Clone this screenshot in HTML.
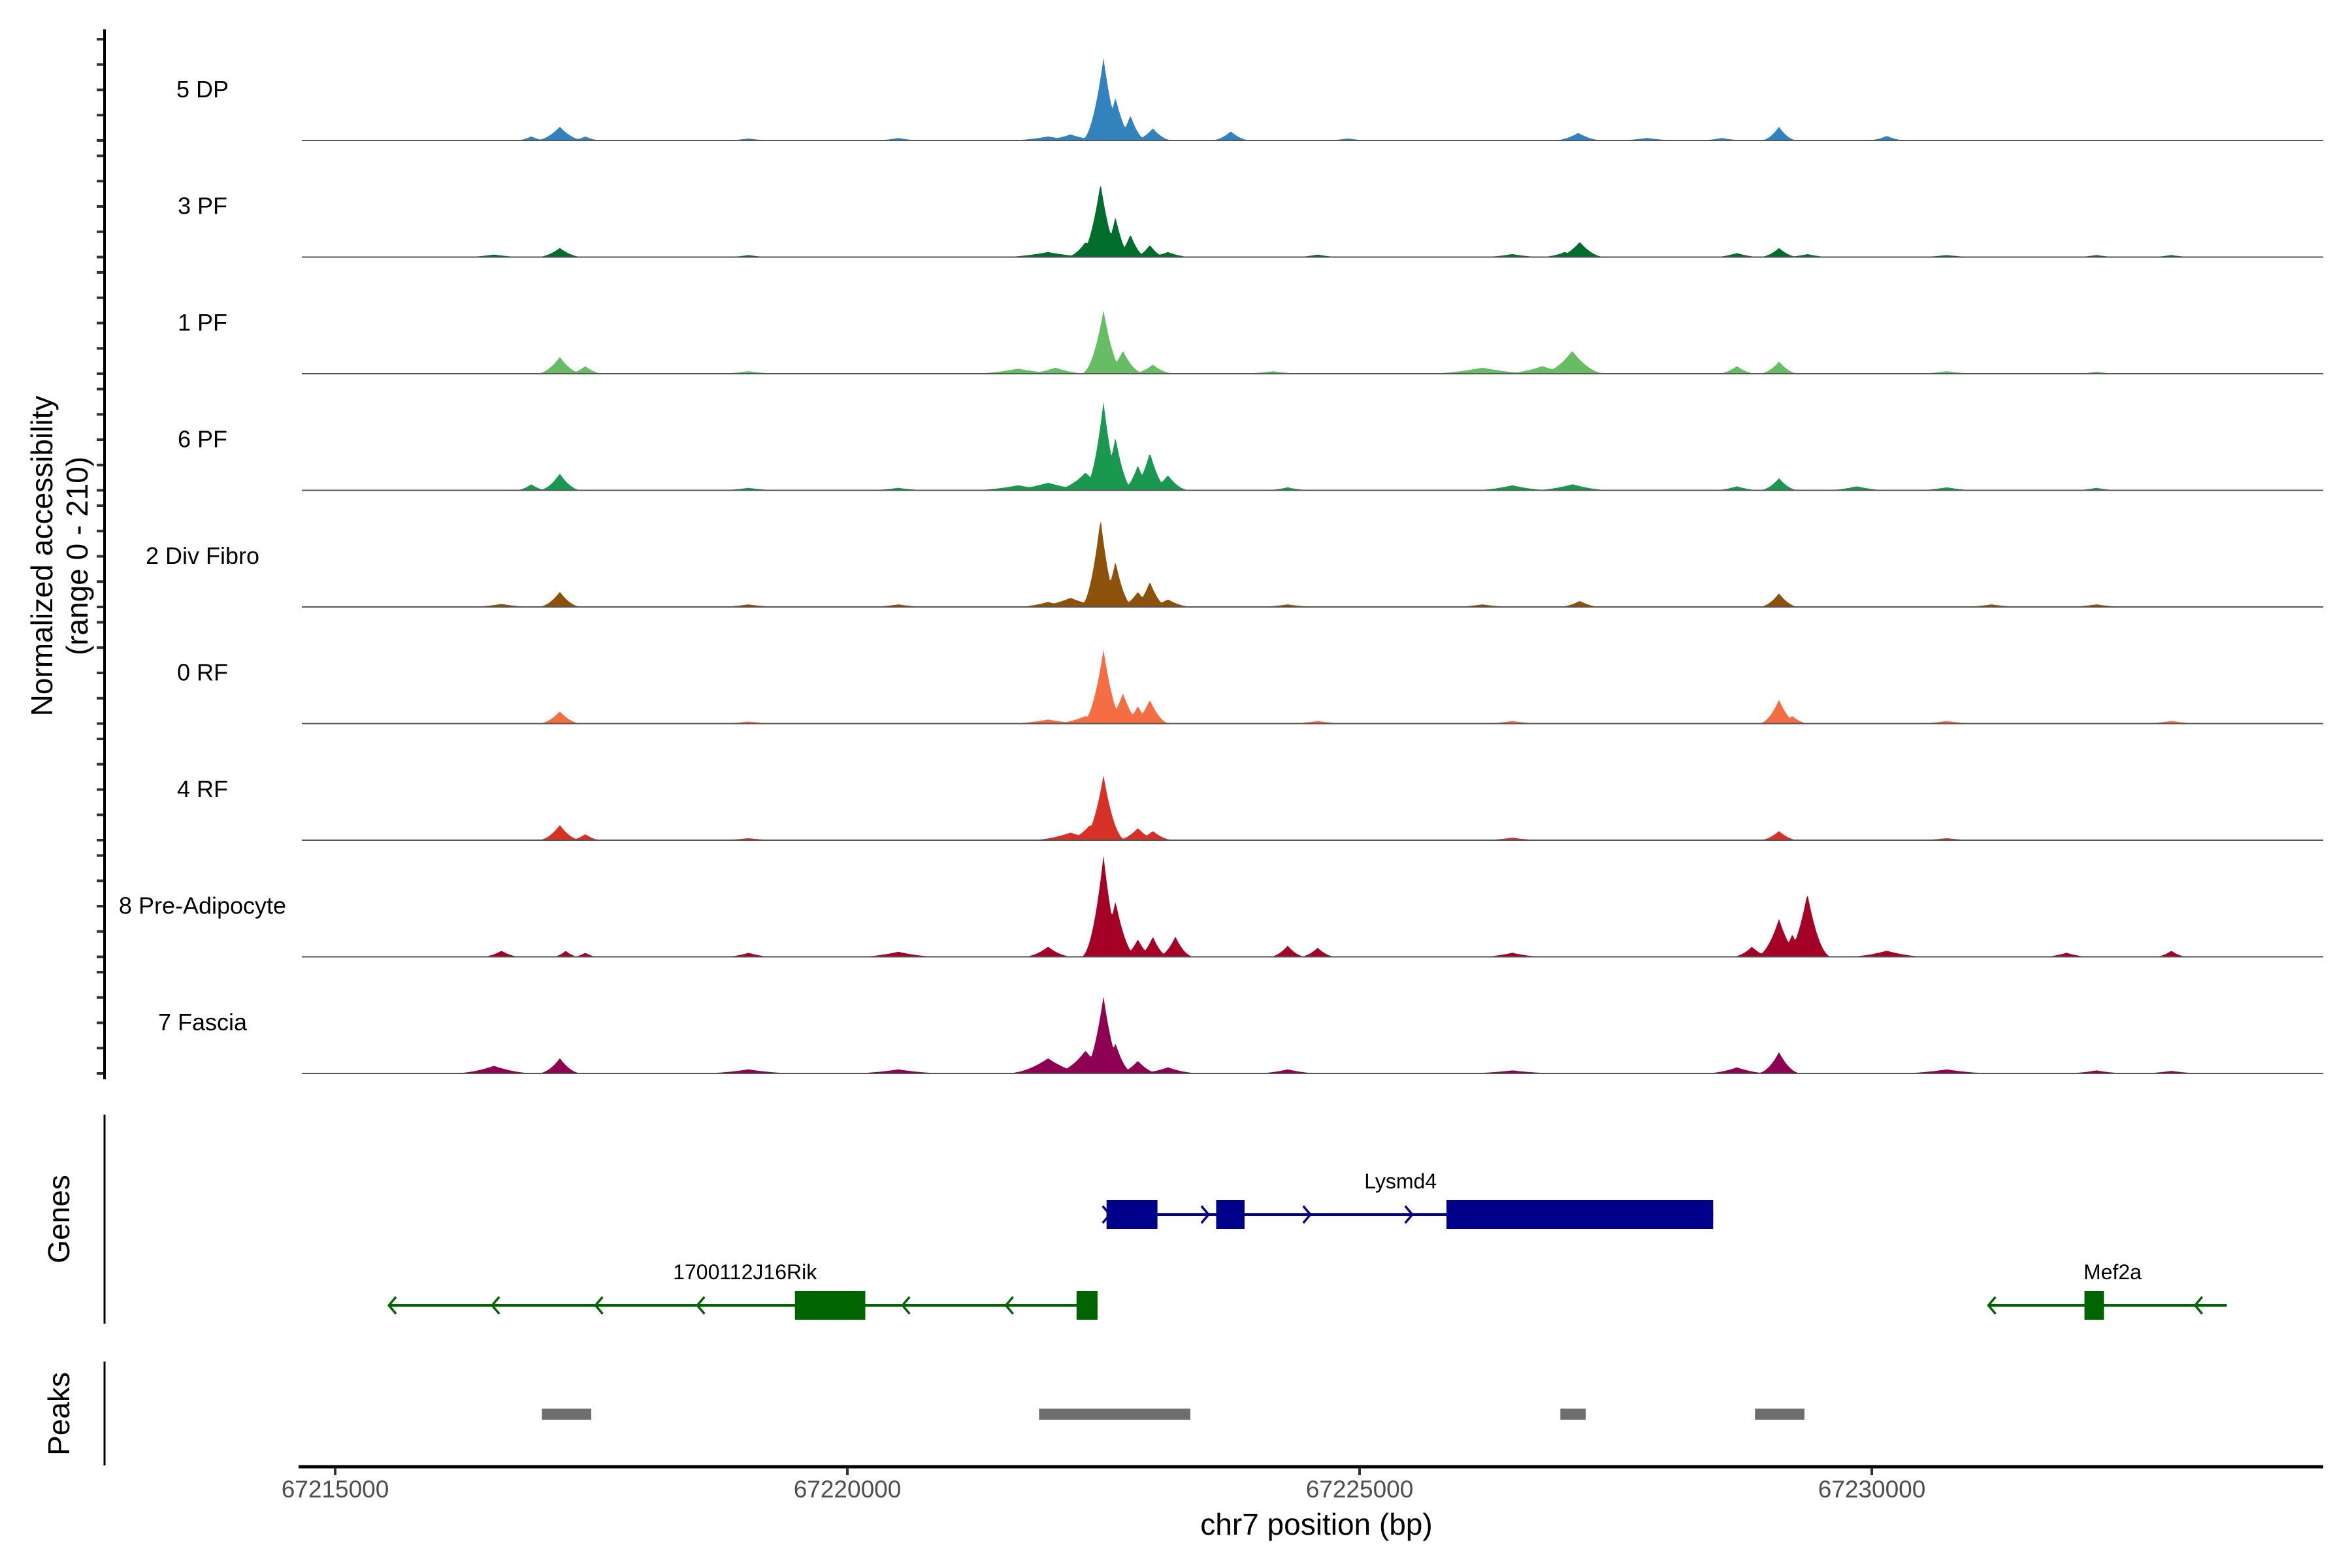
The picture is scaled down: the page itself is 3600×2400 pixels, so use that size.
<!DOCTYPE html>
<html><head><meta charset="utf-8"><style>
html,body{margin:0;padding:0;background:#fff}
svg{display:block;font-family:"Liberation Sans",sans-serif}
</style></head><body>
<svg id="chart" width="3600" height="2400" viewBox="0 0 3600 2400" xmlns="http://www.w3.org/2000/svg">
<g id="tracks"></g>
<g id="genes"></g>
<g id="peaks"></g>
<g id="axes"></g>
<text transform="translate(80,851) rotate(-90)" text-anchor="middle" font-size="46" fill="#000">Normalized accessibility</text>
<text transform="translate(134,851) rotate(-90)" text-anchor="middle" font-size="46" fill="#000">(range 0 - 210)</text>
<text transform="translate(106,1866) rotate(-90)" text-anchor="middle" font-size="46" fill="#000">Genes</text>
<text transform="translate(106,2164) rotate(-90)" text-anchor="middle" font-size="46" fill="#000">Peaks</text>
<text x="2015" y="2349" text-anchor="middle" font-size="46" fill="#000">chr7 position (bp)</text>
</svg>
<script>
const trackNames=["5 DP","3 PF","1 PF","6 PF","2 Div Fibro","0 RF","4 RF","8 Pre-Adipocyte","7 Fascia"];
const trackColors=["#3182bd","#006d2c","#66bd63","#1a9850","#8c510a","#f46d43","#d73027","#a50026","#8e0152"];
const pos5DP=[67217193,67216915,67217442,67221959,67222179,67222500,67222617,67222763,67222982,67223743,67227135,67229094,67230146,67220497,67224883,67227807,67228538,67219035];
const val5DP=[27,8,8,8,12,163,85,50,24,18,15,27,9,5,4,5,5,4];
const wid5DP=[150,100,100,250,200,130,120,100,120,120,150,110,120,150,150,200,150,150];
const pos3PF=[67217193,67216550,67221959,67222325,67222471,67222617,67222763,67222953,67223129,67224591,67226491,67227149,67227003,67229094,67228684,67229371,67230731,67232193,67232924,67219035];
const val3PF=[18,5,10,30,146,80,45,24,10,5,6,30,10,18,8,6,4,4,4,4];
const wid3PF=[140,200,300,120,130,100,100,100,150,150,200,150,150,120,150,150,200,150,150,150];
const pos1PF=[67217193,67217442,67221667,67222032,67222500,67222690,67222982,67226199,67226784,67227076,67228684,67229094,67219035,67224152,67230731,67232193];
const val1PF=[33,15,10,12,125,45,18,12,15,45,15,24,5,5,5,4];
const wid1PF=[140,110,300,200,130,130,130,350,250,200,120,120,200,200,200,150];
const pos6PF=[67216915,67217193,67221667,67221959,67222325,67222500,67222617,67222836,67222953,67223129,67224298,67227076,67226491,67229094,67228684,67229854,67230731,67232193,67220497,67219035];
const val6PF=[12,33,10,15,35,175,105,50,75,30,6,12,10,24,8,8,6,5,5,5];
const wid6PF=[100,130,300,300,200,120,110,100,120,130,150,250,250,120,150,200,200,150,200,200];
const pos2Div=[67216623,67217193,67221959,67222179,67222471,67222617,67222836,67222953,67223129,67227149,67229094,67219035,67220497,67224298,67226199,67231170,67232193];
const val2Div=[6,30,10,18,175,90,30,50,15,12,27,5,5,5,5,5,5];
const wid2Div=[200,130,200,250,120,110,120,110,150,130,120,200,200,200,200,200,200];
const pos0RF=[67217193,67221959,67222325,67222500,67222690,67222836,67222953,67229094,67229225,67219035,67224591,67226491,67230731,67232924];
const val0RF=[24,8,15,146,60,35,47,47,15,4,5,5,5,5];
const wid0RF=[130,250,200,130,120,100,120,120,100,200,200,200,200,200];
const pos4RF=[67217193,67217442,67222179,67222368,67222500,67222836,67222982,67229094,67219035,67226491,67230731];
const val4RF=[30,12,15,30,128,24,18,18,4,5,4];
const wid4RF=[130,100,250,150,130,130,130,120,200,200,200];
const pos8PA=[67216623,67217251,67217442,67221959,67222500,67222617,67222836,67222982,67223202,67224298,67224591,67228830,67229094,67229225,67229371,67219035,67220497,67226491,67230146,67232924,67231900];
const val8PA=[12,12,8,20,200,110,35,40,40,22,18,20,75,45,125,8,10,8,12,12,8];
const wid8PA=[120,80,80,150,130,130,100,100,110,110,110,120,140,100,140,150,250,200,250,100,150];
const pos7F=[67216550,67217193,67221959,67222325,67222500,67222617,67222836,67223129,67224298,67229094,67228684,67219035,67220497,67226491,67230731,67232193,67232924];
const val7F=[15,30,30,45,152,60,25,12,8,42,12,8,8,6,8,6,5];
const wid7F=[250,130,250,200,130,110,130,200,200,130,200,300,300,300,300,200,200];
const trackPos=[pos5DP,pos3PF,pos1PF,pos6PF,pos2Div,pos0RF,pos4RF,pos8PA,pos7F];
const trackVal=[val5DP,val3PF,val1PF,val6PF,val2Div,val0RF,val4RF,val8PA,val7F];
const trackWid=[wid5DP,wid3PF,wid1PF,wid6PF,wid2Div,wid0RF,wid4RF,wid8PA,wid7F];
const xTicks=[67215000,67220000,67225000,67230000];
const xTickLabels=["67215000","67220000","67225000","67230000"];
const yMax=210;
const geneNames=["Lysmd4","1700112J16Rik","Mef2a"];
const geneStart=[67222530,67215526,67231140];
const geneEnd=[67228452,67222442,67233465];
const geneStrand=["+","-","-"];
const geneRow=[0,1,1];
const geneLabelPos=[67225400,67219000,67232350];
const geneExons=[[[67222530,67223027],[67223600,67223877],[67225848,67228452]],[[67219488,67220175],[67222237,67222442]],[[67232076,67232266]]];
const geneArrows=[[67222530,67223494,67224488,67225483],[67215556,67216564,67217573,67218567,67220570,67221579],[67231170,67233187]];
const peakStart=[67217018,67221871,67226960,67228860];
const peakEnd=[67217500,67223348,67227208,67229342];

const NS="http://www.w3.org/2000/svg";
const X0=457,X1=3556;
const SC=0.1568;
function xs(bp){return 513+(bp-67215000)*SC;}
function bpAt(px){return 67215000+(px-513)/SC;}
const PXU=0.775;
function base(i){return 215+178.5*i;}
function ys(i,v){return base(i)-Math.min(v,yMax)*PXU;}
function mk(tag,attrs,parent){const e=document.createElementNS(NS,tag);for(const k in attrs)e.setAttribute(k,attrs[k]);parent.appendChild(e);return e;}

const tg=document.getElementById('tracks');
for(let i=0;i<trackNames.length;i++){
  const P=trackPos[i],V=trackVal[i],W=trackWid[i];
  let d="M"+X0+","+base(i);
  for(let px=X0;px<=X1;px+=2){
    const bp=bpAt(px);let v=0;
    for(let k=0;k<P.length;k++){const r=1-Math.abs(bp-P[k])/(W[k]*1.7);if(r>0){const c=V[k]*r*r;if(c>v)v=c;}}
    d+=" L"+px+","+ys(i,v).toFixed(1);
  }
  d+=" L"+X1+","+base(i)+" Z";
  const a=mk('path',{d:d,fill:trackColors[i]},tg);
  
  
  const bl=mk('line',{x1:X0+5,x2:X1,y1:base(i),y2:base(i),stroke:'#555','stroke-width':2},tg);
  
  
  const t=mk('text',{x:310,y:base(i)-66,'text-anchor':'middle','font-size':36,fill:'#000'},tg);
  t.textContent=trackNames[i];
  
  
  for(let k=0;k<=4;k++){
    const ty=ys(i,k*50);
    const tk=mk('line',{x1:148,x2:160,y1:ty,y2:ty,stroke:'#333','stroke-width':4},tg);
    
    
  }
}
const ax=document.getElementById('axes');
let l=mk('line',{x1:160,x2:160,y1:45,y2:1652,stroke:'#000','stroke-width':4},ax);


l=mk('line',{x1:160,x2:160,y1:1706,y2:2026,stroke:'#000','stroke-width':3},ax);


l=mk('line',{x1:160,x2:160,y1:2084,y2:2243,stroke:'#000','stroke-width':3},ax);


l=mk('line',{x1:X0,x2:X1,y1:2245,y2:2245,stroke:'#000','stroke-width':5},ax);


for(let k=0;k<xTicks.length;k++){
  const x=xs(xTicks[k]);
  const tk=mk('line',{x1:x,x2:x,y1:2247,y2:2258,stroke:'#333','stroke-width':4},ax);
  
  
  const t=mk('text',{x:x,y:2292,'text-anchor':'middle','font-size':37,fill:'#4d4d4d'},ax);
  t.textContent=xTickLabels[k];
  
  
}
const gg=document.getElementById('genes');
const rowY=[1859,1998];
const geneCol=["#00008b","#006400","#006400"];
for(let g=0;g<geneNames.length;g++){
  const y=rowY[geneRow[g]],c=geneCol[g];
  const ln=mk('line',{x1:xs(geneStart[g]),x2:xs(geneEnd[g]),y1:y,y2:y,stroke:c,'stroke-width':4},gg);
  
  
  for(const e of geneExons[g]){
    const r=mk('rect',{x:xs(e[0]),y:y-22,width:xs(e[1])-xs(e[0]),height:44,fill:c},gg);
    
    
  }
  for(const a of geneArrows[g]){
    const x=xs(a);const s=geneStrand[g]=="+"?1:-1;
    const p=mk('polyline',{points:(x-6*s)+","+(y-13)+" "+(x+5*s)+","+y+" "+(x-6*s)+","+(y+13),fill:'none',stroke:c,'stroke-width':3.5},gg);
    
    
  }
  const t=mk('text',{x:xs(geneLabelPos[g]),y:y-40,'text-anchor':'middle','font-size':32,fill:'#000'},gg);
  t.textContent=geneNames[g];
  
  
}
const pg=document.getElementById('peaks');
for(let k=0;k<peakStart.length;k++){
  const r=mk('rect',{x:xs(peakStart[k]),y:2156,width:xs(peakEnd[k])-xs(peakStart[k]),height:17,fill:'#6e6e6e'},pg);
  
  
}
</script>
</body></html>
